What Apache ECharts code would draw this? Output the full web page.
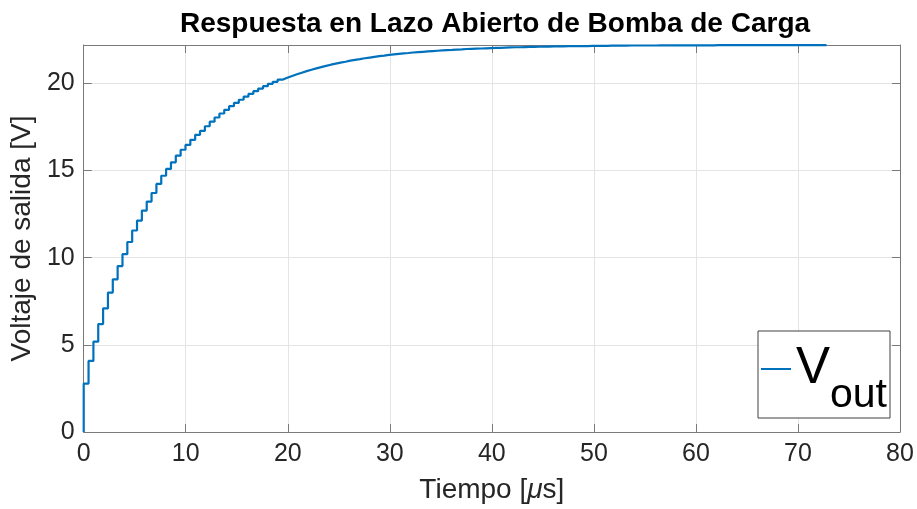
<!DOCTYPE html>
<html>
<head>
<meta charset="utf-8">
<script src="https://cdn.jsdelivr.net/npm/echarts@6/dist/echarts.min.js"></script>
<style>
  html, body { margin: 0; padding: 0; background: #ffffff; }
  #chart { width: 917px; height: 509px; }
</style>
</head>
<body>
<div id="chart"></div>
<script>
// Charge pump open-loop output: one voltage level per pump cycle
const stepPeriod = 0.475;   // µs per pump cycle
const endTime = 72.8;       // µs, end of the simulation
const stepLevels = [
  2.78, 4.08, 5.18, 6.19, 7.09, 8.00, 8.76, 9.52, 10.20, 10.90,
  11.56, 12.13, 12.70, 13.22, 13.71, 14.23, 14.70, 15.09, 15.47, 15.85,
  16.19, 16.47, 16.76, 17.05, 17.27, 17.54, 17.80, 18.04, 18.27, 18.48,
  18.69, 18.88, 19.06, 19.24, 19.40, 19.55, 19.70, 19.84, 19.97, 20.09,
  20.21, 20.32, 20.42, 20.52, 20.61, 20.70, 20.78, 20.86, 20.93, 21.00,
  21.07, 21.13, 21.19, 21.24, 21.30, 21.35, 21.39, 21.44, 21.48, 21.52,
  21.56, 21.59, 21.63, 21.66, 21.69, 21.72, 21.74, 21.77, 21.79, 21.81,
  21.83, 21.85, 21.87, 21.89, 21.91, 21.92, 21.94, 21.95, 21.97, 21.98,
  21.99, 22.00, 22.01, 22.02, 22.03, 22.04, 22.05, 22.06, 22.07, 22.07,
  22.08, 22.09, 22.09, 22.10, 22.11, 22.11, 22.12, 22.12, 22.12, 22.13,
  22.13, 22.14, 22.14, 22.14, 22.15, 22.15, 22.15, 22.15, 22.16, 22.16,
  22.16, 22.16, 22.17, 22.17, 22.17, 22.17, 22.17, 22.17, 22.18, 22.18,
  22.18, 22.18, 22.18, 22.18, 22.18, 22.18, 22.18, 22.18, 22.18, 22.18,
  22.19, 22.19, 22.19, 22.19, 22.19, 22.19, 22.19, 22.19, 22.19, 22.19,
  22.19, 22.19, 22.19, 22.19, 22.19, 22.19, 22.19, 22.19, 22.19, 22.19,
  22.19, 22.19, 22.19, 22.19
];
const xTicks = [0, 10, 20, 30, 40, 50, 60, 70, 80];
const yTicks = [0, 5, 10, 15, 20];
const yTop = 22.2;

// (time, level) pairs; each level holds until the next cycle
const seriesData = [[0, 0]];
stepLevels.forEach(function (v, i) { seriesData.push([i * stepPeriod, v]); });
seriesData.push([endTime, stepLevels[stepLevels.length - 1]]);

const FONT = 'Liberation Sans';
const AXIS_COLOR = '#7a7a7a';
const TEXT_COLOR = '#262626';
const GRID_COLOR = '#e4e4e4';

const xStep = xTicks[1] - xTicks[0];
const yStep = yTicks[1] - yTicks[0];

function xAxisCfg(primary) {
  return {
    type: 'value',
    position: primary ? 'bottom' : 'top',
    min: xTicks[0], max: xTicks[xTicks.length - 1], interval: xStep,
    name: primary ? 'Tiempo [{m|μ}s]' : '',
    nameLocation: 'middle', nameGap: 44,
    nameTextStyle: {
      fontFamily: FONT, fontSize: 28, color: TEXT_COLOR,
      rich: { m: { fontFamily: FONT, fontSize: 28, fontStyle: 'italic', color: TEXT_COLOR } }
    },
    axisLine: { show: true, onZero: false, lineStyle: { color: AXIS_COLOR, width: 1 } },
    axisTick: { show: true, inside: true, length: 8, lineStyle: { color: AXIS_COLOR } },
    axisLabel: { show: primary, margin: 10, fontFamily: FONT, fontSize: 25, color: TEXT_COLOR },
    splitLine: { show: primary, lineStyle: { color: GRID_COLOR, width: 1 } }
  };
}
function yAxisCfg(primary) {
  return {
    type: 'value',
    position: primary ? 'left' : 'right',
    min: yTicks[0], max: yTop, interval: yStep,
    name: primary ? 'Voltaje de salida [V]' : '',
    nameLocation: 'middle', nameGap: 37,
    nameTextStyle: { fontFamily: FONT, fontSize: 28, color: TEXT_COLOR },
    axisLine: { show: true, onZero: false, lineStyle: { color: AXIS_COLOR, width: 1 } },
    axisTick: { show: true, inside: true, length: 8, lineStyle: { color: AXIS_COLOR } },
    axisLabel: { show: primary, margin: 9, showMaxLabel: false, fontFamily: FONT, fontSize: 25, color: TEXT_COLOR },
    splitLine: { show: primary, lineStyle: { color: GRID_COLOR, width: 1 } }
  };
}

const chart = echarts.init(document.getElementById('chart'), null, { renderer: 'canvas' });
chart.setOption({
  animation: false,
  backgroundColor: '#ffffff',
  title: {
    text: 'Respuesta en Lazo Abierto de Bomba de Carga',
    left: 490, top: 5, textAlign: 'center',
    textStyle: { fontFamily: FONT, fontSize: 28, fontWeight: 'bold', color: '#000000' }
  },
  grid: { left: 81, right: 17, top: 45, bottom: 75, containLabel: false },
  xAxis: [xAxisCfg(true), xAxisCfg(false)],
  yAxis: [yAxisCfg(true), yAxisCfg(false)],
  legend: {
    left: 758, top: 331,
    orient: 'vertical',
    padding: [12, 3, 2, 3],
    backgroundColor: '#ffffff',
    borderColor: '#404040', borderWidth: 1, borderRadius: 0,
    icon: 'rect', itemWidth: 30, itemHeight: 2,
    selectedMode: false,
    formatter: function () { return '{v|V}{s|out}'; },
    textStyle: {
      color: '#000000', fontFamily: FONT,
      rich: {
        v: { fontFamily: FONT, fontSize: 51, lineHeight: 52, verticalAlign: 'top', color: '#000000' },
        s: { fontFamily: FONT, fontSize: 41, lineHeight: 42, padding: [32, 0, 0, 0], verticalAlign: 'top', color: '#000000' }
      }
    },
    data: ['Vout']
  },
  series: [{
    name: 'Vout',
    type: 'line',
    step: 'end',
    data: seriesData,
    xAxisIndex: 0, yAxisIndex: 0,
    showSymbol: false,
    symbol: 'none',
    clip: false,
    lineStyle: { color: '#0072BD', width: 2.2 },
    itemStyle: { color: '#0072BD' }
  }]
});
</script>
</body>
</html>
